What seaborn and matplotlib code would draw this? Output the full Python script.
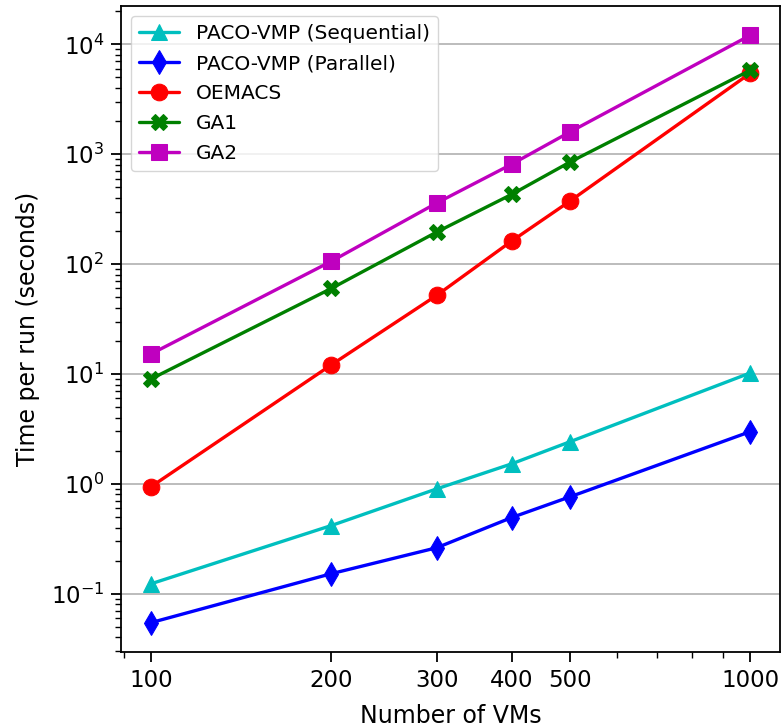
import matplotlib
matplotlib.use("Agg")
import matplotlib.pyplot as plt
from matplotlib.ticker import FixedLocator, FixedFormatter, NullFormatter
import seaborn as sns
import pandas as pd

vms = [100, 200, 300, 400, 500, 1000]
paco_seq = [0.123, 0.417, 0.90, 1.52, 2.41, 10.2]
paco_par = [0.0545, 0.152, 0.262, 0.493, 0.76, 2.98]
oemacs = [0.94, 12.1, 52, 162, 373, 5450]
ga1 = [9.0, 60, 196, 431, 846, 5800]
ga2 = [15.2, 106, 360, 811, 1590, 12080]
x_ticks = [100, 200, 300, 400, 500, 1000]
x_tick_labels = ["100", "200", "300", "400", "500", "1000"]

series = [
    ("PACO-VMP (Sequential)", paco_seq, "c", "^"),
    ("PACO-VMP (Parallel)", paco_par, "b", "d"),
    ("OEMACS", oemacs, "r", "o"),
    ("GA1", ga1, "g", "X"),
    ("GA2", ga2, "m", "s"),
]

sns.set_style("ticks")
plt.rcParams["font.family"] = ["DejaVu Sans"]
plt.rcParams["text.color"] = "black"
plt.rcParams["axes.labelcolor"] = "black"
plt.rcParams["xtick.color"] = "black"
plt.rcParams["ytick.color"] = "black"

fig = plt.figure(figsize=(7.82, 7.27), dpi=100)
ax = fig.add_axes([121/782, 75/727, 659/782, 646/727])

for name, vals, color, marker in series:
    df = pd.DataFrame({"x": vms, "y": vals})
    sns.lineplot(data=df, x="x", y="y", ax=ax, color=color, marker=marker,
                 markersize=12, linewidth=2.4, markeredgecolor=color,
                 label=name)

ax.set_xscale("log")
ax.set_yscale("log")
ax.xaxis.set_major_locator(FixedLocator(x_ticks))
ax.xaxis.set_major_formatter(FixedFormatter(x_tick_labels))
ax.xaxis.set_minor_formatter(NullFormatter())
ax.grid(True, axis="y", which="major", color="#b0b0b0", linewidth=1.2)
ax.set_axisbelow(True)
for s in ax.spines.values():
    s.set_visible(True)
    s.set_linewidth(1.3)
    s.set_color("black")
ax.tick_params(axis="both", which="major", labelsize=16.5, length=7, width=1.3,
               direction="out", pad=5)
ax.tick_params(axis="both", which="minor", length=4, width=1.0, direction="out")
ax.set_xlabel("Number of VMs", fontsize=17, labelpad=9)
ax.set_ylabel("Time per run (seconds)", fontsize=17, labelpad=8)
leg = ax.legend(loc="upper left", fontsize=14.5, frameon=True, fancybox=True,
                framealpha=0.8, edgecolor="#cccccc", handlelength=2.0,
                borderaxespad=0.5, labelspacing=0.55)
fig.savefig("out.png", dpi=100)
